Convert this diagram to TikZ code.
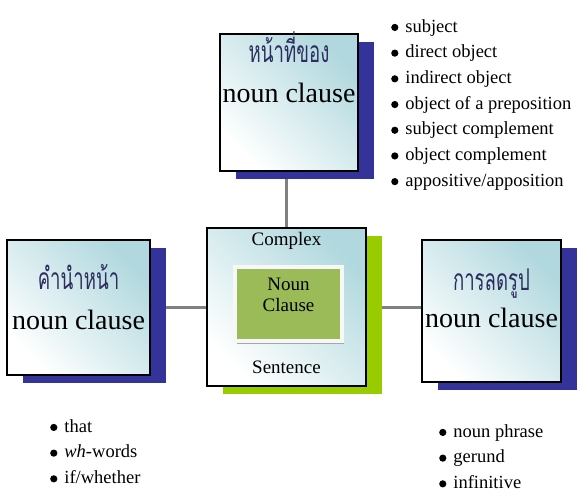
\documentclass[tikz,border=0pt]{standalone}
\usepackage{fontspec}
\setmainfont{Liberation Serif}
\newfontfamily\thaifont[Script=Thai, FakeStretch=0.62]{Loma}
\usetikzlibrary{positioning, shadows, backgrounds, calc}
\definecolor{navyShadow}{RGB}{51,51,153}
\definecolor{limeShadow}{RGB}{153,204,0}
\definecolor{clauseGreen}{RGB}{155,187,89}
\definecolor{paleTeal}{RGB}{176,216,222}
\definecolor{thaiInk}{RGB}{45,45,95}
\definecolor{linkGray}{RGB}{128,128,128}
\newcommand{\dotitem}{\tikz[baseline=0pt]{\fill (3.6pt,4.6pt) circle (3.6pt);}\hspace{7pt}}

\begin{document}
\begin{tikzpicture}[x=1pt, y=-1pt,
  box/.style={draw=black, line width=1.2pt, inner sep=0pt,
    bottom color=white, middle color=paleTeal!22!white, top color=paleTeal,
    shading angle=-45},
  navybox/.style={box, drop shadow={shadow xshift=16pt, shadow yshift=-8pt,
    fill=navyShadow, opacity=1}},
  limebox/.style={box, drop shadow={shadow xshift=16pt, shadow yshift=-8pt,
    fill=limeShadow, opacity=1}},
  greenbox/.style={fill=clauseGreen, draw=white!94!gray, line width=4pt,
    minimum width=107pt, minimum height=74pt, inner sep=0pt,
    drop shadow={shadow xshift=1.5pt, shadow yshift=-3pt, fill=gray!70, opacity=1}},
  thai/.style={font=\thaifont\fontsize{30}{32}\selectfont, text=thaiInk,
    anchor=base, inner sep=0pt},
  big/.style={font=\fontsize{28}{32}\selectfont, anchor=base, inner sep=0pt},
  mid/.style={font=\fontsize{19}{21}\selectfont, inner sep=0pt},
  items/.style={font=\fontsize{18.5}{25.7}\selectfont, align=left, inner sep=0pt,
    anchor=north west},
  link/.style={draw=linkGray, line width=3pt},
]
  \useasboundingbox (0,0) rectangle (588,503);

  % the four boxes
  \node[navybox, minimum width=138pt, minimum height=137pt] (funcbox) at (289,102.5) {};
  \node[limebox, minimum width=159pt, minimum height=158pt] (cbox) at (286.5,307) {};
  \node[navybox, minimum width=143pt, minimum height=135pt] (introbox) at (78.5,307.5) {};
  \node[navybox, minimum width=139pt, minimum height=142pt] (reducebox) at (491.5,311) {};

  % connectors behind the boxes
  \begin{scope}[on background layer]
    \draw[link] (cbox.north) -- (cbox.north |- funcbox.south);
    \draw[link] (cbox.west) -- (cbox.west -| introbox.east);
    \draw[link] (cbox.east) -- (cbox.east -| reducebox.west);
  \end{scope}

  % box texts
  \node[thai] at ([yshift=-29pt]funcbox.north) {หน้าที่ของ};
  \node[big]  at ([yshift=-69pt]funcbox.north) {noun clause};
  \node[thai] at ([yshift=-50pt]introbox.north) {คำนำหน้า};
  \node[big]  at ([yshift=-90pt]introbox.north) {noun clause};
  \node[thai] at ([yshift=-51pt]reducebox.north) {การลดรูป};
  \node[big]  at ([yshift=-88pt]reducebox.north) {noun clause};

  \node[mid, anchor=base] at ([yshift=-18pt]cbox.north) {Complex};
  \node[mid, anchor=base] at ([yshift=13pt]cbox.south) {Sentence};
  \node[greenbox] (nounbox) at (288.5,304) {};
  \node[mid, align=center] at ([yshift=9pt]nounbox.center) {Noun\\Clause};

  % bullet lists
  \node[items] (funclist) at (391,19)
    {\dotitem subject\\ \dotitem direct object\\ \dotitem indirect object\\
     \dotitem object of a preposition\\ \dotitem subject complement\\
     \dotitem object complement\\ \dotitem appositive/apposition};
  \node[items] (introlist) at (50,419)
    {\dotitem that\\ \dotitem \textit{wh}-words\\ \dotitem if/whether};
  \node[items] (reducelist) at (439,424)
    {\dotitem noun phrase\\ \dotitem gerund\\ \dotitem infinitive};
\end{tikzpicture}
\end{document}
